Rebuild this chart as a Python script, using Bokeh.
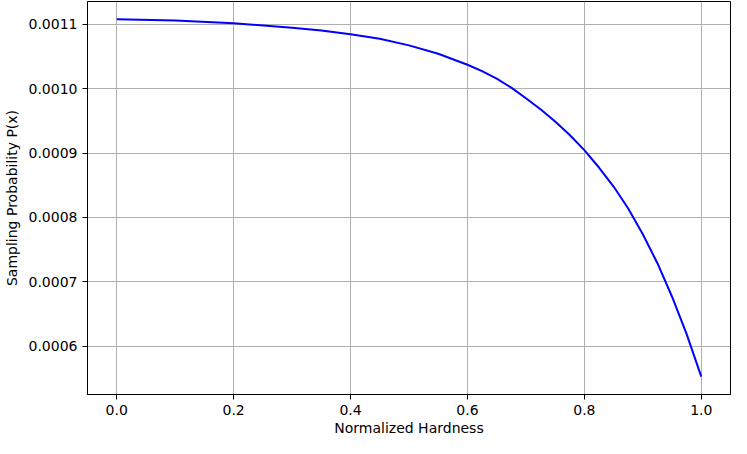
from bokeh.plotting import figure
from bokeh.models import Range1d, FixedTicker, PrintfTickFormatter, ColumnDataSource
from bokeh.embed import file_html
from bokeh.resources import INLINE

hardness = [0.0, 0.1, 0.2, 0.3, 0.35, 0.4, 0.45, 0.5, 0.55, 0.6, 0.625, 0.65,
            0.675, 0.7, 0.725, 0.75, 0.775, 0.8, 0.825, 0.85, 0.875, 0.9,
            0.925, 0.95, 0.975, 1.0]
probability = [0.0011074, 0.0011055, 0.0011015, 0.0010945, 0.0010900, 0.0010842,
               0.0010773, 0.0010670, 0.0010540, 0.0010370, 0.0010270, 0.0010155,
               0.0010015, 0.0009850, 0.0009680, 0.0009490, 0.0009280, 0.0009045,
               0.0008775, 0.0008480, 0.0008140, 0.0007740, 0.0007290, 0.0006770,
               0.0006190, 0.0005530]
x_ticks = [0.0, 0.2, 0.4, 0.6, 0.8, 1.0]
y_ticks = [0.0006, 0.0007, 0.0008, 0.0009, 0.0010, 0.0011]

src = ColumnDataSource(dict(x=hardness, y=probability))

p = figure(width=731, height=438, output_backend="svg", toolbar_location=None,
           x_range=Range1d(-0.05, 1.05), y_range=Range1d(0.0005253, 0.0011351),
           min_border_left=78, min_border_right=1, min_border_top=1, min_border_bottom=41)

p.line("x", "y", source=src, line_color="#0000ff", line_width=2)

p.outline_line_color = "black"
p.outline_line_width = 1
p.background_fill_color = "white"
p.border_fill_color = "white"

for ax in (p.xaxis[0], p.yaxis[0]):
    ax.axis_line_color = "black"
    ax.major_tick_line_color = "black"
    ax.major_tick_out = 5
    ax.major_tick_in = 0
    ax.minor_tick_line_color = None
    ax.major_label_text_font = "DejaVu Sans"
    ax.major_label_text_font_size = "14px"
    ax.major_label_text_color = "black"
    ax.axis_label_text_font = "DejaVu Sans"
    ax.axis_label_text_font_size = "14px"
    ax.axis_label_text_font_style = "normal"
    ax.axis_label_text_color = "black"

p.xaxis.ticker = FixedTicker(ticks=x_ticks)
p.yaxis.ticker = FixedTicker(ticks=y_ticks)
p.xaxis.formatter = PrintfTickFormatter(format="%.1f")
p.yaxis.formatter = PrintfTickFormatter(format="%.4f")
p.xaxis.axis_label = "Normalized Hardness"
p.yaxis.axis_label = "Sampling Probability P(x)"
p.xaxis.major_label_standoff = 5
p.yaxis.major_label_standoff = 5
p.xaxis.axis_label_standoff = 2
p.yaxis.axis_label_standoff = 6

p.grid.grid_line_color = "#b0b0b0"
p.grid.grid_line_width = 1

open("out.html", "w").write(file_html(p, INLINE))
